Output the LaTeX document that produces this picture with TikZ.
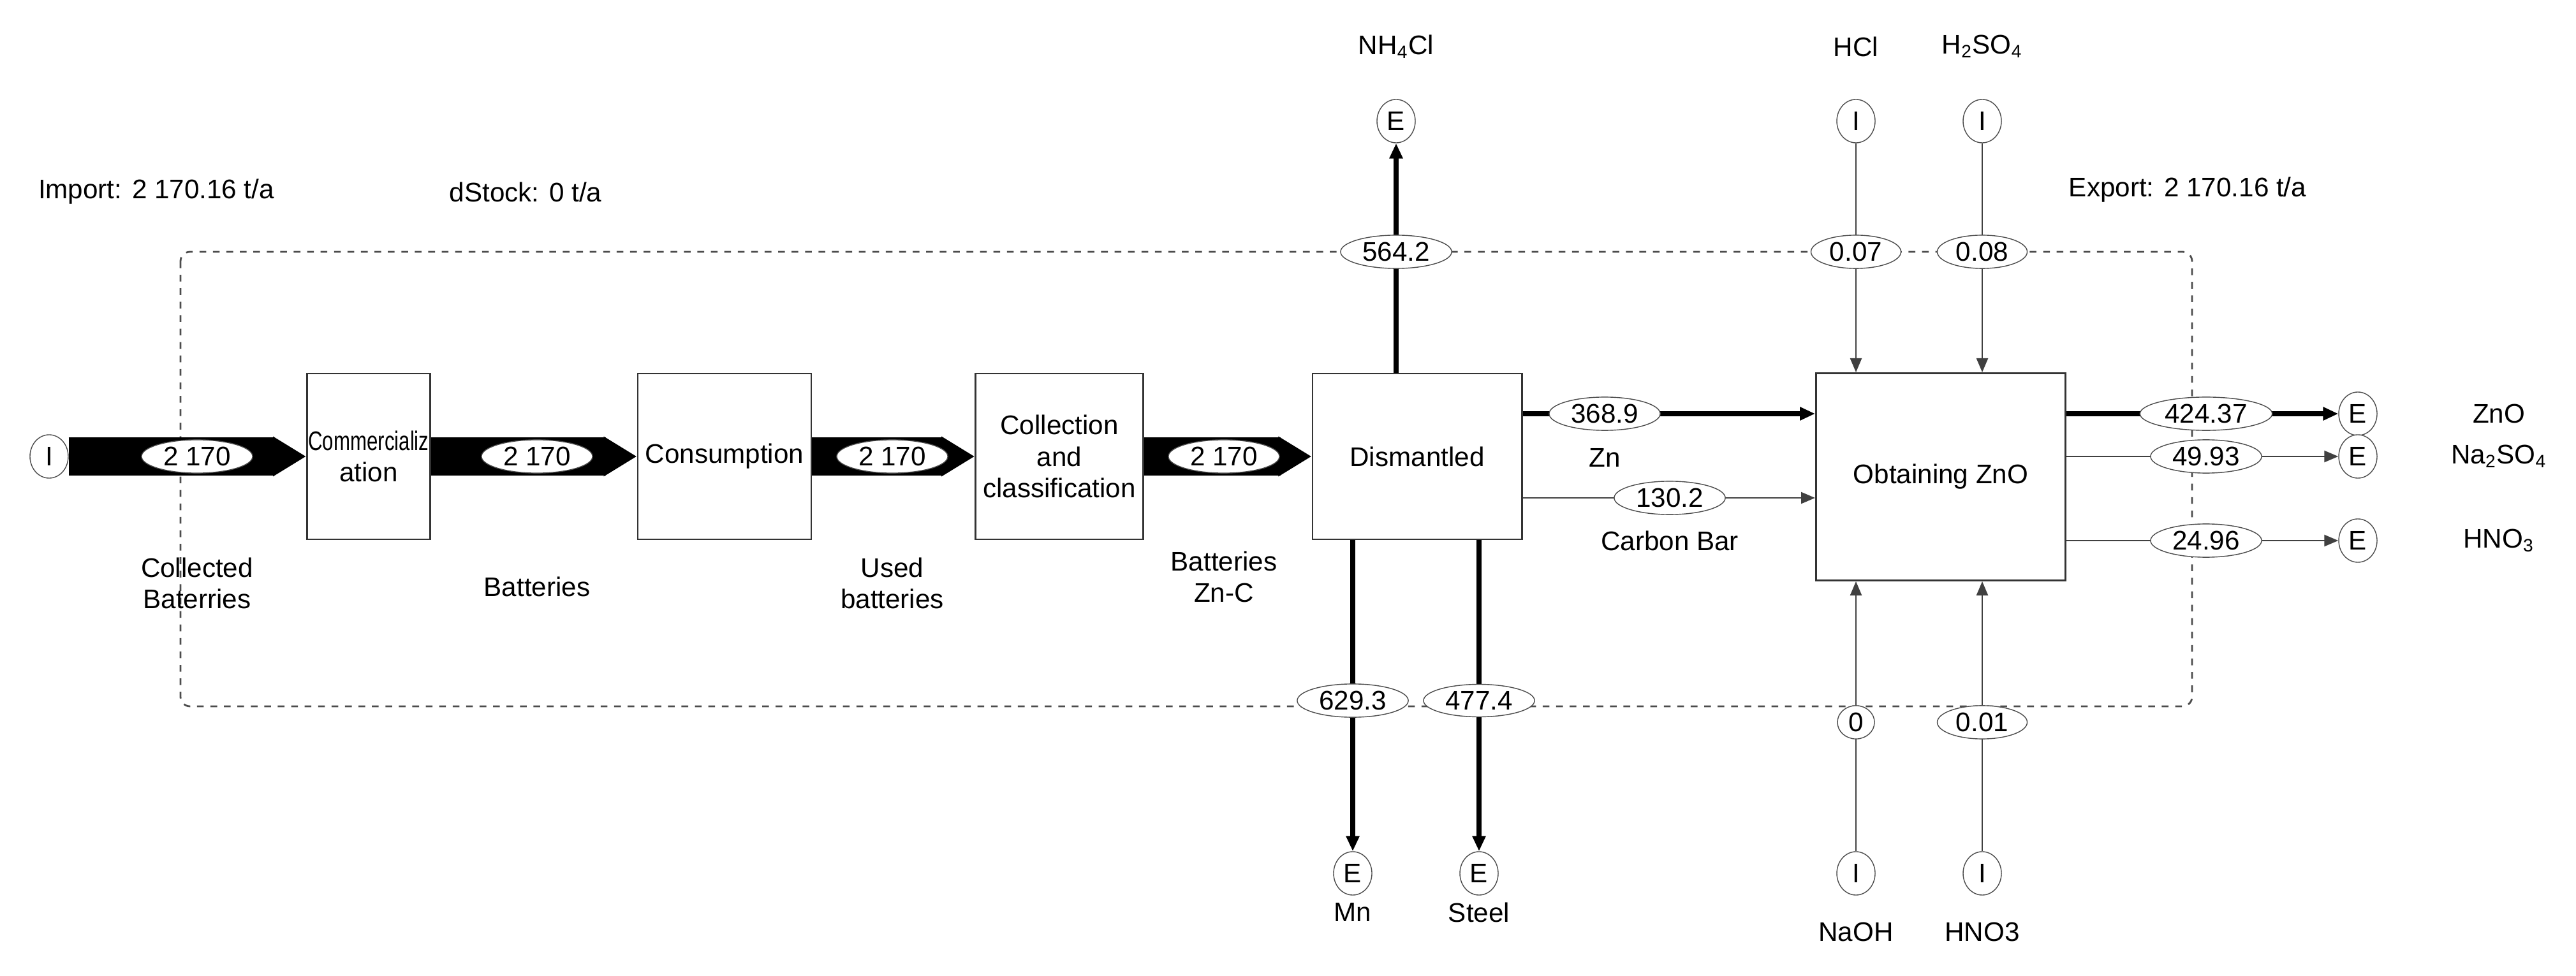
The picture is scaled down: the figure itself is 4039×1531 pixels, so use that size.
\documentclass[tikz,border=0pt]{standalone}
\usepackage{fontspec}
\usepackage{graphicx}
\setmainfont{Liberation Sans}
\usetikzlibrary{positioning,shapes.geometric,arrows.meta}

\begin{document}
\begin{tikzpicture}[x=0.01cm, y=-0.01cm,
    every node/.style={font=\fontsize{12}{14}\selectfont},
    box/.style={rectangle, draw=black!80, thick, fill=white, minimum height=2.6cm, align=center},
    term/.style={ellipse, draw=black!70, fill=white, minimum width=0.6cm, minimum height=0.68cm, inner sep=0pt},
    val/.style={ellipse, draw=black!70, fill=white, inner xsep=2.5pt, inner ysep=1pt, minimum height=0.5cm},
    lbl/.style={align=center},
    fat/.style={line width=0.59cm, -{Triangle[length=0.52cm, width=0pt 1]}},
    big/.style={line width=2.3pt, -{Triangle[length=0.24cm, width=0.2cm]}},
    thin/.style={draw=black!75, line width=0.7pt, -{Triangle[length=0.22cm, width=0.18cm]}}
]
\useasboundingbox (0,0) rectangle (4039,1531);

% system boundary
\draw[dashed, black!70, thick, rounded corners=0.15cm] (283,395) rectangle (3437,1108);

\node[lbl] (imp) at (245,301) {Import: 2 170.16 t/a};
\node[lbl] (dst) at (824,301) {dStock: 0 t/a};
\node[lbl] (exp) at (3430,298) {Export: 2 170.16 t/a};

% processes
\node[term] (iin) at (77,716) {I};
\node[box, minimum width=1.93cm, text width=1.9cm, inner xsep=0pt] (comm) at (578,716) {\scalebox{0.74}[1]{Commercializ}\\ation};
\node[box, minimum width=2.62cm] (cons) at (1136,716) {Consumption};
\node[box, minimum width=2.57cm] (coll) at (1661,716) {Collection\\and\\classification};
\node[box, minimum width=3.28cm] (dism) at (2222,716) {Dismantled};
\node[box, minimum width=3.91cm, minimum height=3.25cm] (zno) at (3043,748) {Obtaining ZnO};

% main chain
\draw[fat] (iin) -- (comm);
\draw[fat] (comm) -- (cons);
\draw[fat] (cons) -- (coll);
\draw[fat] (coll) -- (dism);
\node[val] (v1) at (309,716) {2 170};
\node[val] (v2) at (842,716) {2 170};
\node[val] (v3) at (1399,716) {2 170};
\node[val] (v4) at (1919,716) {2 170};
\node[lbl] (l1) at (309,915) {Collected\\Baterries};
\node[lbl] (l2) at (842,920) {Batteries};
\node[lbl] (l3) at (1399,915) {Used\\batteries};
\node[lbl] (l4) at (1919,905) {Batteries\\Zn-C};

% dismantling outputs
\node[term] (enh) at (2189,190) {E};
\node[lbl] (tnh) at (2189,73) {NH\textsubscript{4}Cl};
\draw[big] (dism.north -| enh) -- (enh);
\node[val] (v5) at (2189,395) {564.2};

\node[term] (emn) at (2121,1370) {E};
\node[term] (est) at (2319,1370) {E};
\node[lbl] (tmn) at (2121,1431) {Mn};
\node[lbl] (tst) at (2319,1431) {Steel};
\draw[big] (dism.south -| emn) -- (emn);
\draw[big] (dism.south -| est) -- (est);
\node[val] (v6) at (2121,1099) {629.3};
\node[val] (v7) at (2319,1099) {477.4};

\draw[big] ([yshift=0.67cm]dism.east) -- ([yshift=0.67cm]dism.east -| zno.west);
\draw[thin] ([yshift=-0.65cm]dism.east) -- ([yshift=-0.65cm]dism.east -| zno.west);
\node[val] (v8) at (2516,649) {368.9};
\node[val] (v9) at (2618,781) {130.2};
\node[lbl] (tzn) at (2516,718) {Zn};
\node[lbl] (tcb) at (2618,848) {Carbon Bar};

% reagents
\node[term] (ihcl) at (2910,190) {I};
\node[term] (ihso) at (3108,190) {I};
\node[term] (inaoh) at (2910,1370) {I};
\node[term] (ihno) at (3108,1370) {I};
\node[lbl] (thcl) at (2910,73) {HCl};
\node[lbl] (thso) at (3108,73) {H\textsubscript{2}SO\textsubscript{4}};
\node[lbl] (tnaoh) at (2910,1462) {NaOH};
\node[lbl] (thno) at (3108,1462) {HNO3};
\draw[thin] (ihcl) -- (ihcl |- zno.north);
\draw[thin] (ihso) -- (ihso |- zno.north);
\draw[thin] (inaoh) -- (inaoh |- zno.south);
\draw[thin] (ihno) -- (ihno |- zno.south);
\node[val] (v10) at (2910,395) {0.07};
\node[val] (v11) at (3108,395) {0.08};
\node[val] (v12) at (2910,1133) {0};
\node[val] (v13) at (3108,1133) {0.01};

% products
\node[term] (ezno) at (3697,649) {E};
\node[term] (ena) at (3697,716) {E};
\node[term] (ehno) at (3697,848) {E};
\draw[big] (ezno -| zno.east) -- (ezno);
\draw[thin] (ena -| zno.east) -- (ena);
\draw[thin] (ehno -| zno.east) -- (ehno);
\node[val] (v14) at (3459,649) {424.37};
\node[val] (v15) at (3459,716) {49.93};
\node[val] (v16) at (3459,848) {24.96};
\node[lbl] (tzno) at (3918,649) {ZnO};
\node[lbl] (tna) at (3918,716) {Na\textsubscript{2}SO\textsubscript{4}};
\node[lbl] (thnp) at (3918,848) {HNO\textsubscript{3}};
\end{tikzpicture}
\end{document}
